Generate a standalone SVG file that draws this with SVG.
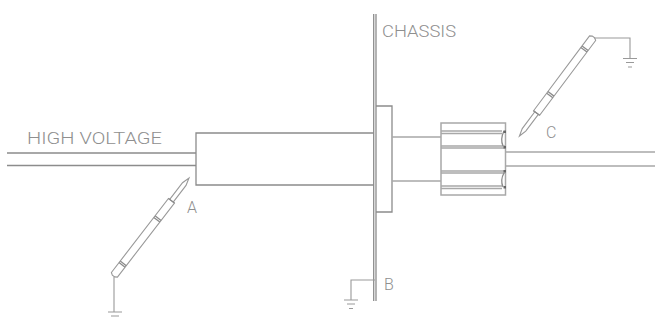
<svg xmlns="http://www.w3.org/2000/svg" width="655" height="320" viewBox="0 0 655 320">
<style>
.l{fill:none;stroke:#999;stroke-width:1.1}
.d{fill:none;stroke:#8c8c8c;stroke-width:1.3}
.f{fill:none;stroke:#a8a8a8;stroke-width:1.5}
.t{font-family:"Roboto","Liberation Sans",Arial,sans-serif;font-weight:300;font-size:16px;fill:#8f8f8f}
</style>
<defs>
<g id="probe">
<path class="l" d="M0-1.500 L1.500-3.800 H95 V3.800 H1.500 L0 1.500Z"/>
<path class="l" d="M95-2.200 H116 L123.700 0 L116 2.200 H95"/>
<path class="d" d="M14-3.800V3.800M16-3.800V3.800M71-3.800V3.800M73-3.800V3.800M95-3.800V3.800"/>
</g>
<path id="gnd" class="l" d="M-7 0H7M-4 4H4M-2 8.500H2"/>
</defs>
<g id="cable-left"><path class="d" d="M7 153H196M7 165.500H196"/></g>
<g id="body"><path class="d" d="M374 133H196V185H374"/></g>
<g id="chassis"><path class="d" d="M373.700 14V301M376 14V301"/><path class="l" d="M375 280H351V300"/><use href="#gnd" x="351" y="300"/></g>
<g id="flange"><path class="d" d="M376 106H392V212H376"/></g>
<g id="neck"><path class="f" d="M392 137H441M392 181H441"/></g>
<g id="nut">
<rect class="f" x="441" y="123" width="64.500" height="72"/>
<path class="f" d="M441 131H502M441 133.500H502M441 146H505M441 148H505M441 171H505M441 173H505M441 186H502M441 188.500H502"/>
<path class="d" d="M504 131Q500 139 503 146M504 173Q500 180 503 187"/>
<path d="M503.500 130.500h2.500v2.500h-2.500zM503.500 146h2.500v2.500h-2.500zM503.500 170h2.500v2.500h-2.500zM503.500 186h2.500v2.500h-2.500z" fill="#666"/>
</g>
<g id="cable-right"><path class="f" d="M505 152H655M505 166H655"/></g>
<g id="probe-a"><use href="#probe" transform="translate(113.500 276) rotate(-52.400)"/><path class="l" d="M114 277V312"/><use href="#gnd" x="115" y="312"/></g>
<g id="probe-c"><use href="#probe" transform="translate(593.500 37) rotate(126.800)"/><path class="l" d="M594 38H630V58"/><use href="#gnd" x="630" y="58.500"/></g>
<g id="labels">
<text class="t" x="27" y="144" textLength="135" lengthAdjust="spacingAndGlyphs">HIGH VOLTAGE</text>
<text class="t" x="382" y="37" textLength="74" lengthAdjust="spacingAndGlyphs">CHASSIS</text>
<text class="t" x="187" y="213">A</text>
<text class="t" x="384" y="290">B</text>
<text class="t" x="546" y="138">C</text>
</g>
</svg>
